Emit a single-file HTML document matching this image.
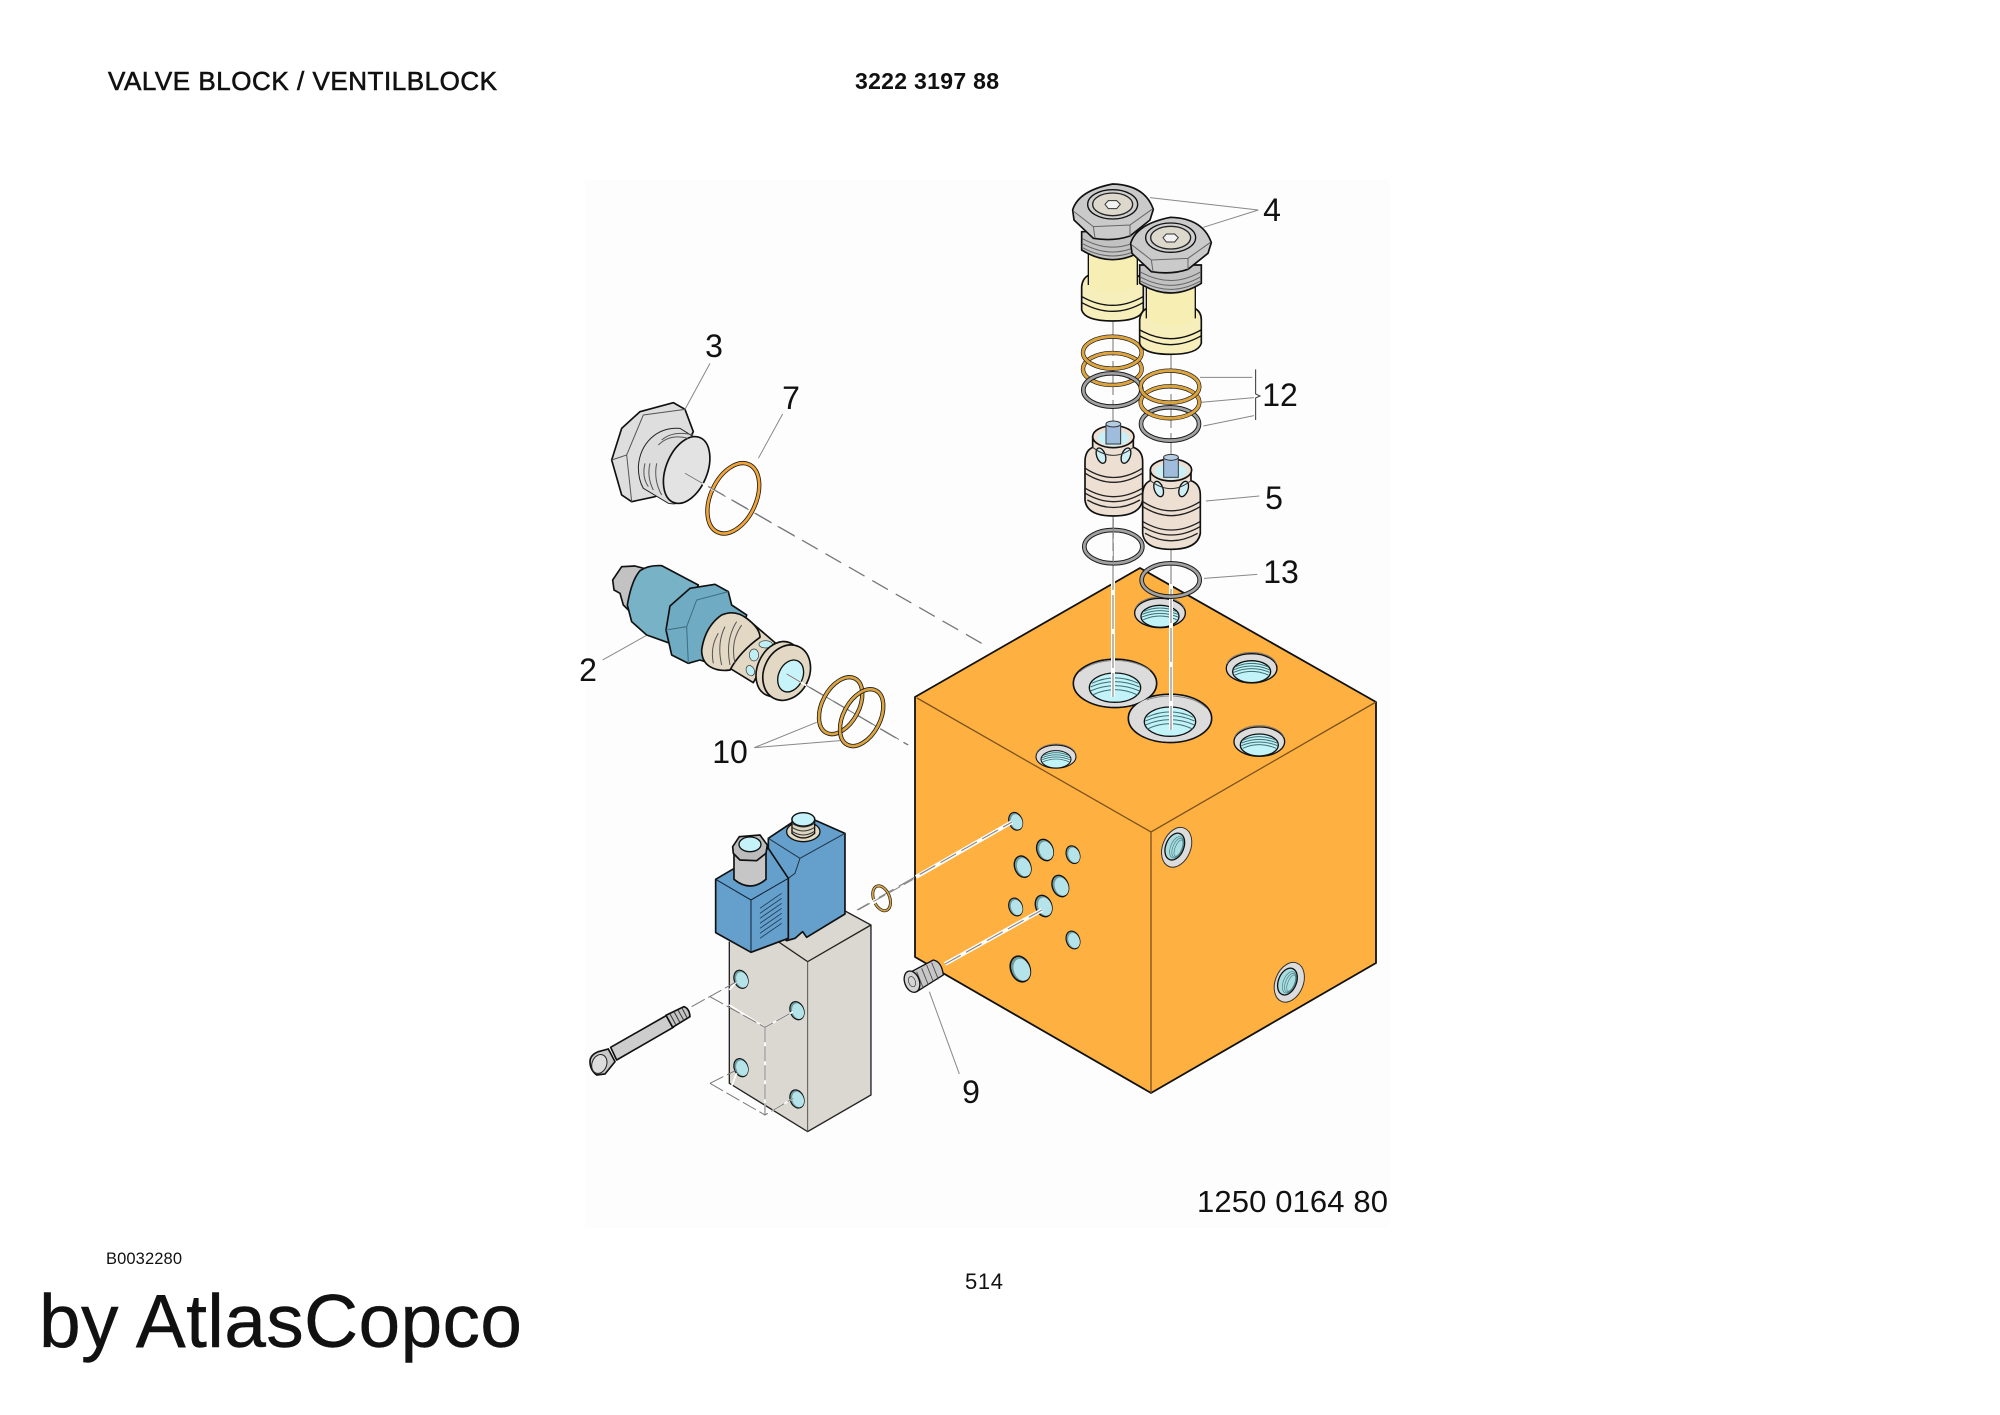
<!DOCTYPE html>
<html><head><meta charset="utf-8"><title>Valve Block</title>
<style>html,body{margin:0;padding:0;background:#fff}svg{display:block}text{font-family:"Liberation Sans",sans-serif;fill:#111}</style></head>
<body>
<svg xmlns="http://www.w3.org/2000/svg" width="2000" height="1415" viewBox="0 0 2000 1415">
<defs>
<g id="th">
<ellipse cx="0" cy="0" rx="76" ry="44" fill="#dcdcdc" stroke="#111" stroke-width="4"/>
<path d="M-74,-10 A76,44 0 0 1 74,-10" fill="none" stroke="#777" stroke-width="3" transform="translate(0,-4)"/>
<ellipse cx="0" cy="10" rx="57" ry="33" fill="#c2f3f8" stroke="#111" stroke-width="4"/>
<g fill="none" stroke="#3d6f73" stroke-width="3">
<path d="M-50,-4 Q0,-26 50,-4"/><path d="M-53,4 Q0,-18 53,4"/><path d="M-54,12 Q0,-10 54,12"/><path d="M-50,20 Q0,-2 50,20"/>
</g>
</g>
<g id="threads">
<ellipse cx="0" cy="0" rx="77" ry="44" fill="#c2f3f8" stroke="#111" stroke-width="4"/>
<g fill="none" stroke="#3d6f73" stroke-width="3">
<path d="M-70,-13 Q0,-46 70,-13"/><path d="M-74,-2 Q0,-34 74,-2"/><path d="M-74,10 Q0,-22 74,10"/><path d="M-68,22 Q0,-10 68,22"/>
</g>
</g>
<g id="sh">
<ellipse rx="24" ry="33" fill="#6f9a9e" stroke="#111" stroke-width="4"/>
<ellipse cx="3" cy="3" rx="20" ry="28" fill="#b4e4e9"/>
</g>
<g id="rh">
<ellipse rx="42" ry="62" fill="#dcdcdc" stroke="#333" stroke-width="3"/>
<ellipse cx="-6" cy="0" rx="27" ry="42" fill="#a9dde0" stroke="#111" stroke-width="4"/>
<g fill="none" stroke="#4a7f83" stroke-width="2"><ellipse cx="0" cy="0" rx="18" ry="34"/><ellipse cx="3" cy="0" rx="14" ry="30"/><ellipse cx="6" cy="0" rx="10" ry="26"/></g>
</g>
<g id="p4">
<path d="M95,350 Q97,326 115,316 L262,316 Q280,326 280,350 L280,420 Q270,453 188,453 Q105,453 95,420 Z" fill="#f6eebb" stroke="#111" stroke-width="5"/>
<path d="M96,380 Q188,432 279,380 M96,398 Q188,450 279,398" fill="none" stroke="#111" stroke-width="4"/>
<path d="M115,250 L262,250 L262,345 Q188,392 115,345 Z" fill="#f7eeb3"/>
<path d="M115,250 L115,345 M262,250 L262,345" stroke="#111" stroke-width="4" fill="none"/>
<path d="M95,185 L95,240 Q188,298 280,240 L280,185 Z" fill="#c2c2c2" stroke="#111" stroke-width="5"/>
<path d="M96,205 Q188,258 279,205 M96,220 Q188,272 279,220 M96,232 Q188,284 279,232" stroke="#666" stroke-width="3" fill="none"/>
<path d="M68,120 Q85,62 188,42 Q285,45 310,118 L300,150 L240,198 Q190,215 130,205 L72,150 Z" fill="#cacaca" stroke="#111" stroke-width="5" stroke-linejoin="round"/>
<path d="M72,125 L130,170 L240,165 L306,118 M130,170 L135,204 M240,165 L240,198" stroke="#666" stroke-width="3" fill="none"/>
<ellipse cx="188" cy="103" rx="75" ry="44" fill="#cfcfcf" stroke="#111" stroke-width="4"/>
<ellipse cx="188" cy="103" rx="60" ry="34" fill="#dcd8cc" stroke="#222" stroke-width="4"/>
<path d="M165,103 L175,92 L200,92 L211,103 L200,116 L175,116 Z" fill="#f2f2f2" stroke="#333" stroke-width="3"/>
</g>
<g id="p5">
<path d="M105,125 Q105,92 128,82 L128,50 L250,50 L250,82 Q278,92 278,125 L278,240 Q270,288 190,288 Q110,288 105,240 Z" fill="#eedfd3" stroke="#111" stroke-width="5"/>
<ellipse cx="190" cy="50" rx="62" ry="33" fill="#eedfd3" stroke="#111" stroke-width="5"/>
<ellipse cx="190" cy="54" rx="47" ry="24" fill="#c9f0f6"/>
<rect x="168" y="12" width="44" height="60" fill="#a0bcdc" stroke="#333" stroke-width="3"/>
<ellipse cx="190" cy="12" rx="22" ry="9" fill="#b4cce4" stroke="#333" stroke-width="3"/>
<ellipse cx="153" cy="107" rx="13" ry="24" transform="rotate(-20 153 107)" fill="#cdeff5" stroke="#111" stroke-width="4"/>
<ellipse cx="228" cy="107" rx="13" ry="24" transform="rotate(20 228 107)" fill="#cdeff5" stroke="#111" stroke-width="4"/>
<path d="M128,82 Q190,130 250,82" fill="none" stroke="#333" stroke-width="3"/>
<path d="M106,145 Q190,200 277,145 M106,160 Q190,214 277,160 M106,205 Q190,255 277,205 M106,220 Q190,270 277,220 M112,240 Q190,285 270,240" fill="none" stroke="#222" stroke-width="4"/>
</g>
<g id="gr"><ellipse rx="87" ry="50" fill="none" stroke="#1c1c1c" stroke-width="14"/><ellipse rx="87" ry="50" fill="none" stroke="#a2a2a2" stroke-width="8"/></g>
<g id="gd"><ellipse rx="88" ry="48" fill="none" stroke="#1c1c1c" stroke-width="13"/><ellipse rx="88" ry="48" fill="none" stroke="#dca43f" stroke-width="9"/></g>
</defs>

<rect width="2000" height="1415" fill="#fff"/>
<rect x="585" y="180" width="805" height="1048" fill="#fdfdfd"/>

<!-- exploded lines, back -->
<g stroke="#777" stroke-width="1.3" fill="none">
<line x1="685" y1="473" x2="988" y2="647" stroke-dasharray="18 9"/>
<line x1="787" y1="674" x2="908" y2="745" stroke-dasharray="18 9"/>
</g>

<!-- block -->
<polygon points="915,697 1140,568 1376,702 1376,963 1151,1093 915,957" fill="#feb140"/>
<g fill="none" stroke="#111" stroke-width="1.8" stroke-linejoin="round">
<polygon points="915,697 1140,568 1376,702 1376,963 1151,1093 915,957"/>
</g>
<g stroke="#7c5220" stroke-width="1.3" fill="none"><path d="M917,698 L1151,832 L1376,702 M1151,832 L1151,1093"/></g>

<!-- top holes -->
<g transform="translate(1030,640) scale(.3333)">
<ellipse cx="255" cy="130" rx="125" ry="72.5" fill="#dcdcdc" stroke="#111" stroke-width="5"/>
<ellipse cx="420" cy="235" rx="125" ry="72.5" fill="#dcdcdc" stroke="#111" stroke-width="5"/>
<ellipse cx="255" cy="130" rx="122" ry="70" fill="#dcdcdc"/>
<ellipse cx="420" cy="235" rx="122" ry="70" fill="#dcdcdc"/>
<path d="M150,95 A125,70 0 0 1 360,92 M350,180 A125,70 0 0 1 530,205" fill="none" stroke="#888" stroke-width="3"/>
<use href="#threads" transform="translate(255,143)"/>
<use href="#threads" transform="translate(420,245)"/>
<use href="#th" transform="translate(665,85)"/>
<use href="#th" transform="translate(688,305)"/>
<use href="#th" transform="translate(78,350) scale(.79)"/>
</g>
<use href="#th" transform="translate(1160,613) scale(.3333)"/>

<!-- side holes -->
<g transform="translate(900,780) scale(.3333)">
<use href="#sh" transform="translate(347,124) rotate(-20) scale(.83)"/>
<use href="#sh" transform="translate(435,210) rotate(-20)"/>
<use href="#sh" transform="translate(519,224) rotate(-20) scale(.83)"/>
<use href="#sh" transform="translate(368,260) rotate(-20)"/>
<use href="#sh" transform="translate(481,318) rotate(-20)"/>
<use href="#sh" transform="translate(347,381) rotate(-20) scale(.83)"/>
<use href="#sh" transform="translate(431,378) rotate(-20)"/>
<use href="#sh" transform="translate(519,480) rotate(-20) scale(.83)"/>
<use href="#sh" transform="translate(361,567) rotate(-20) scale(1.2)"/>
<use href="#rh" transform="translate(830,202) rotate(22)"/>
<use href="#rh" transform="translate(1168,607) rotate(22)"/>
</g>

<!-- centre lines -->
<g fill="none">
<line x1="1113" y1="322" x2="1113" y2="697" stroke="#fff" stroke-width="4"/>
<line x1="1171" y1="355" x2="1171" y2="730" stroke="#fff" stroke-width="4"/>
<line x1="1113" y1="322" x2="1113" y2="697" stroke="#888" stroke-width="1.2" stroke-dasharray="34 5"/>
<line x1="1171" y1="355" x2="1171" y2="730" stroke="#888" stroke-width="1.2" stroke-dasharray="34 5"/>
<line x1="916" y1="877" x2="1012" y2="822" stroke="#fff" stroke-width="4"/>
<line x1="945" y1="964" x2="1042" y2="910" stroke="#fff" stroke-width="4"/>
<line x1="857" y1="910" x2="1012" y2="822" stroke="#888" stroke-width="1.2" stroke-dasharray="18 6"/>
<line x1="945" y1="964" x2="1042" y2="910" stroke="#888" stroke-width="1.2" stroke-dasharray="18 6"/>
</g>

<!-- parts 4, rings, 5 -->
<g transform="translate(1050,170) scale(.3333)">
<use href="#gd" transform="translate(187,597)"/>
<use href="#gd" transform="translate(187,548)"/>
<use href="#gr" transform="translate(187,660)"/>
<use href="#gr" transform="translate(360,762)"/>
<use href="#gd" transform="translate(360,697)"/>
<use href="#gd" transform="translate(360,650)"/>
<use href="#p4"/>
<use href="#p4" transform="translate(174,100)"/>
<g fill="none" stroke="#888" stroke-width="3">
<path d="M300,83 L625,120 L460,172"/>
<path d="M450,622 L607,622 M455,697 L612,683 M460,768 L612,737"/>
</g>
<path d="M617,598 L617,672 L630,678 L617,684 L617,750" fill="none" stroke="#333" stroke-width="3"/>
</g>
<g transform="translate(1050,420) scale(.3333)">
<use href="#p5"/>
<use href="#p5" transform="translate(173,100)"/>
<use href="#gr" transform="translate(190,380)"/>
<use href="#gr" transform="translate(362,480)"/>
<line x1="190" y1="295" x2="190" y2="440" stroke="#888" stroke-width="3" stroke-dasharray="60 14"/>
<path d="M468,243 L628,228 M462,475 L622,463" fill="none" stroke="#888" stroke-width="3"/>
</g>

<!-- part 3 + 7 -->
<g transform="translate(590,320) scale(.3333)">
<path d="M65,420 L95,325 L150,275 L250,248 L285,268 L310,335 L220,520 L195,530 L125,545 L95,525 Z" fill="#dedede" stroke="#111" stroke-width="5" stroke-linejoin="round"/>
<path d="M65,420 L110,405 L160,285 L285,268 M110,405 L125,545" fill="none" stroke="#555" stroke-width="3"/>
<path d="M145,440 C150,370 200,320 270,325 L350,375 Q370,440 320,510 Q280,560 235,550 L160,505 Q145,480 145,440 Z" fill="#dcdcdc" stroke="#222" stroke-width="3"/>
<ellipse cx="290" cy="450" rx="62" ry="105" transform="rotate(22 290 450)" fill="#e3e3e3" stroke="#111" stroke-width="5"/>
<path d="M205,375 Q240,340 295,355 M215,360 Q250,330 310,345 M180,430 Q170,470 190,510 M165,430 Q155,470 175,500 M200,430 Q190,480 215,525" fill="none" stroke="#555" stroke-width="3"/>
<ellipse cx="430" cy="535" rx="68" ry="112" transform="rotate(25 430 535)" fill="none" stroke="#1c1c1c" stroke-width="13"/>
<ellipse cx="430" cy="535" rx="68" ry="112" transform="rotate(25 430 535)" fill="none" stroke="#f2a436" stroke-width="8"/>
<line x1="285" y1="460" x2="430" y2="545" stroke="#fff" stroke-width="5"/>
<line x1="285" y1="460" x2="620" y2="652" stroke="#777" stroke-width="3" stroke-dasharray="60 20"/>
<path d="M285,268 L360,130 M505,415 L578,282" fill="none" stroke="#888" stroke-width="3"/>
</g>

<!-- part 2 + 10 -->
<g transform="translate(590,550) scale(.3333)">
<path d="M95,50 L135,48 L180,60 L125,190 L100,165 L90,130 L72,120 L68,90 Z" fill="#c2c2c2" stroke="#111" stroke-width="5" stroke-linejoin="round"/>
<path d="M112,165 Q125,90 150,62 Q175,45 215,47 L325,105 L240,280 L170,255 L125,215 Z" fill="#78b2c6" stroke="#111" stroke-width="5" stroke-linejoin="round"/>
<path d="M228,240 L240,168 L300,115 L375,103 L415,125 L425,165 L470,195 L420,360 L330,330 L295,340 L245,315 Z" fill="#6fabc2" stroke="#111" stroke-width="5" stroke-linejoin="round"/>
<path d="M228,240 L290,230 L320,150 L415,125 M290,230 L295,340" fill="none" stroke="#3c6e80" stroke-width="3"/>
<path d="M470,205 L555,278 L490,398 L415,352 Z" fill="#e3d8c4" stroke="#111" stroke-width="5" stroke-linejoin="round"/>
<path d="M335,300 Q345,230 395,195 Q435,178 470,205 Q510,235 510,262 Q450,305 420,360 Q385,365 360,350 Q335,335 335,300 Z" fill="#e3d8c4" stroke="#111" stroke-width="5" stroke-linejoin="round"/>
<path d="M385,250 Q360,290 370,340 M405,230 Q380,280 395,345 M440,215 Q405,270 420,345 M455,225 Q420,275 435,340" fill="none" stroke="#555" stroke-width="3"/>
<ellipse cx="527" cy="283" rx="20" ry="11" fill="#bfeef5" stroke="#333" stroke-width="2"/>
<ellipse cx="492" cy="315" rx="14" ry="18" fill="#bfeef5" stroke="#333" stroke-width="2"/>
<ellipse cx="481" cy="362" rx="12" ry="16" transform="rotate(-25 481 362)" fill="#bfeef5" stroke="#333" stroke-width="2"/>
<ellipse cx="565" cy="357" rx="62" ry="86" transform="rotate(25 565 357)" fill="#e3d8c4" stroke="#111" stroke-width="5"/>
<ellipse cx="590" cy="368" rx="68" ry="86" transform="rotate(25 590 368)" fill="#e3d8c4" stroke="#111" stroke-width="5"/>
<ellipse cx="602" cy="378" rx="36" ry="50" transform="rotate(25 602 378)" fill="#c6f4fa" stroke="#111" stroke-width="4"/>
<line x1="590" y1="372" x2="660" y2="413" stroke="#fff" stroke-width="5"/>
<line x1="590" y1="372" x2="955" y2="585" stroke="#777" stroke-width="3" stroke-dasharray="50 18"/>
<g fill="none">
<ellipse cx="752" cy="467" rx="55" ry="92" transform="rotate(28 752 467)" stroke="#1c1c1c" stroke-width="13"/>
<ellipse cx="752" cy="467" rx="55" ry="92" transform="rotate(28 752 467)" stroke="#dca43f" stroke-width="8"/>
<ellipse cx="815" cy="503" rx="55" ry="92" transform="rotate(28 815 503)" stroke="#1c1c1c" stroke-width="13"/>
<ellipse cx="815" cy="503" rx="55" ry="92" transform="rotate(28 815 503)" stroke="#dca43f" stroke-width="8"/>
<path d="M38,330 L168,257 M680,517 L493,593 L750,572" stroke="#888" stroke-width="3"/>
</g>
</g>

<!-- solenoid -->
<g transform="translate(580,790) scale(.3333)">
<polygon points="448,440 580,440 683,515 683,1025 448,880" fill="#dad8d0"/>
<polygon points="580,445 790,360 873,405 683,515" fill="#dad8d0"/>
<polygon points="683,515 873,405 873,915 683,1025" fill="#dad8d0"/>
<path d="M448,455 L448,880 L683,1025 L873,915 L873,405 L790,360 M580,445 L683,515 L873,405" fill="none" stroke="#222" stroke-width="4"/>
<path d="M683,515 L683,1025" stroke="#555" stroke-width="3"/>
<path d="M565,145 L670,75 L795,130 L795,372 L680,442 L668,425 L645,445 L620,452 L590,430 L565,290 Z" fill="#659fcc" stroke="#111" stroke-width="5" stroke-linejoin="round"/>
<path d="M565,145 L660,205 L645,250 L625,265 M660,205 L795,130" fill="none" stroke="#234" stroke-width="3"/>
<path d="M407,268 L565,175 L625,265 L625,445 L513,487 L407,428 Z" fill="#659fcc" stroke="#111" stroke-width="5" stroke-linejoin="round"/>
<path d="M407,268 L513,330 L625,265 M513,330 L513,487" fill="none" stroke="#123" stroke-width="3"/>
<path d="M540,355 L605,310 M540,370 L605,325 M540,385 L605,340 M540,400 L605,355 M540,415 L605,370 M540,430 L605,385 M540,445 L605,400" stroke="#1d3a55" stroke-width="2.5"/>
<path d="M462,190 L462,268 Q510,308 558,268 L558,190 Z" fill="#c6c6c6" stroke="#111" stroke-width="5"/>
<path d="M458,170 L478,140 L540,135 L562,165 L558,190 L530,212 L480,210 L460,190 Z" fill="#bcbcbc" stroke="#111" stroke-width="5"/>
<ellipse cx="510" cy="163" rx="33" ry="22" fill="#c4f2f8" stroke="#111" stroke-width="4"/>
<ellipse cx="670" cy="125" rx="50" ry="30" fill="#e4dbc2" stroke="#111" stroke-width="4"/>
<path d="M636,85 L636,130 Q670,158 704,130 L704,85 Z" fill="#dcd6c0" stroke="#111" stroke-width="4"/>
<path d="M636,100 Q670,122 704,100 M636,112 Q670,134 704,112 M636,124 Q670,146 704,124" fill="none" stroke="#333" stroke-width="3"/>
<ellipse cx="670" cy="88" rx="34" ry="20" fill="#c4f2f8" stroke="#111" stroke-width="4"/>
<use href="#sh" transform="translate(483,568) rotate(-20) scale(.85)"/>
<use href="#sh" transform="translate(651,662) rotate(-20) scale(.85)"/>
<use href="#sh" transform="translate(483,833) rotate(-20) scale(.85)"/>
<use href="#sh" transform="translate(651,927) rotate(-20) scale(.85)"/>
<g fill="none">
<path d="M448,600 L470,575 M448,645 L555,712 L640,665 M555,712 L555,975 L640,925 M448,905 L470,850 M448,912 L555,975" stroke="#fff" stroke-width="5"/>
<path d="M335,650 L470,575 M390,620 L555,712 L640,665 M555,712 L555,975 L640,925 M390,880 L470,840 M390,880 L555,975" stroke="#777" stroke-width="3" stroke-dasharray="45 12"/>
</g>
<ellipse cx="905" cy="325" rx="24" ry="39" transform="rotate(-22 905 325)" fill="none" stroke="#1c1c1c" stroke-width="9"/>
<ellipse cx="905" cy="325" rx="24" ry="39" transform="rotate(-22 905 325)" fill="none" stroke="#dca43f" stroke-width="5"/>
<line x1="868" y1="343" x2="898" y2="326" stroke="#fff" stroke-width="12"/>
<line x1="835" y1="360" x2="1000" y2="268" stroke="#888" stroke-width="3" stroke-dasharray="40 12"/>
<polygon points="92,772 262,675 280,712 110,810" fill="#cdcdcd" stroke="#111" stroke-width="5" stroke-linejoin="round"/>
<path d="M258,676 L312,650 Q328,655 330,680 L278,712 Z" fill="#c4c4c4" stroke="#111" stroke-width="5" stroke-linejoin="round"/>
<path d="M270,672 L288,705 M282,665 L300,698 M294,660 L312,692 M306,654 L322,685" fill="none" stroke="#333" stroke-width="3"/>
<path d="M30,815 Q30,795 55,785 L85,777 L105,815 L75,852 L50,855 Q30,840 30,815 Z" fill="#c8c8c8" stroke="#111" stroke-width="5"/>
<ellipse cx="58" cy="822" rx="22" ry="29" transform="rotate(20 58 822)" fill="#dcdcdc" stroke="#222" stroke-width="3"/>
</g>

<!-- part 9 -->
<g transform="translate(900,780) scale(.3333)">
<path d="M25,580 L100,540 Q125,545 130,585 L50,635 Z" fill="#c7c7c7" stroke="#111" stroke-width="4" stroke-linejoin="round"/>
<path d="M50,575 L70,625 M65,565 L85,615 M80,555 L100,605 M95,548 L115,598" stroke="#444" stroke-width="2.5"/>
<ellipse cx="36" cy="605" rx="22" ry="33" transform="rotate(-20 36 605)" fill="#d4d4d4" stroke="#111" stroke-width="4"/>
<ellipse cx="36" cy="605" rx="10" ry="16" transform="rotate(-20 36 605)" fill="none" stroke="#333" stroke-width="2"/>
<path d="M88,635 L178,882" stroke="#888" stroke-width="3" fill="none"/>
</g>

<!-- labels -->
<g font-size="32" text-anchor="middle">
<text x="1272" y="221">4</text>
<text x="1280" y="406">12</text>
<text x="1274" y="509">5</text>
<text x="1281" y="583">13</text>
<text x="714" y="357">3</text>
<text x="791" y="409">7</text>
<text x="588" y="681">2</text>
<text x="730" y="763">10</text>
<text x="971" y="1103">9</text>
</g>
<text x="108" y="90" font-size="26" textLength="389" lengthAdjust="spacing" stroke="#111" stroke-width=".6">VALVE BLOCK / VENTILBLOCK</text>
<text x="855" y="89" font-size="23" font-weight="bold" textLength="144" lengthAdjust="spacing">3222 3197 88</text>
<text x="1197" y="1212" font-size="31" textLength="191" lengthAdjust="spacing">1250 0164 80</text>
<text x="106" y="1264" font-size="16.5" textLength="76" lengthAdjust="spacing">B0032280</text>
<text x="965" y="1289" font-size="22" textLength="38" lengthAdjust="spacing">514</text>
<text x="39" y="1347" font-size="75" textLength="483" lengthAdjust="spacing" stroke="#111" stroke-width=".4">by AtlasCopco</text>
</svg>
</body></html>
